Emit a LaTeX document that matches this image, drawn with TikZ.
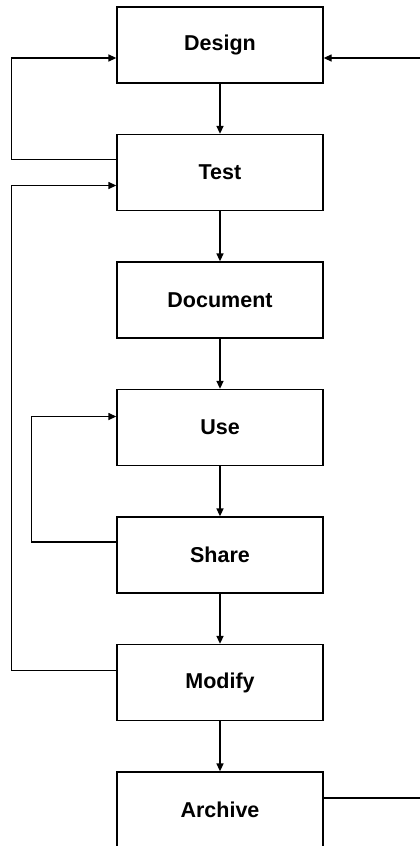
\documentclass[tikz,border=0pt]{standalone}
\usepackage{fontspec}
\setmainfont{Liberation Sans}
\usetikzlibrary{arrows.meta,positioning}

\begin{document}
\begin{tikzpicture}[x=1pt, y=1pt, node distance=50.2pt,
  stage/.style = {shape=rectangle, draw, line width=1.3pt, minimum width=206pt, minimum height=76pt, font=\fontsize{21.5}{26}\selectfont\bfseries},
  flow/.style = {-{Triangle[length=8pt,width=7pt]}, line width=1.6pt},
  back/.style = {-{Triangle[length=8pt,width=7pt]}, line width=1.3pt}]
  \useasboundingbox (0,0) rectangle (420,-846);
  \node[stage] (design) at (220,-45) {Design};
  \node[stage, below=of design] (test) {Test};
  \node[stage, below=of test] (document) {Document};
  \node[stage, below=of document] (use) {Use};
  \node[stage, below=of use] (share) {Share};
  \node[stage, below=of share] (modify) {Modify};
  \node[stage, below=of modify] (archive) {Archive};

  \draw[flow] (design) -- (test);
  \draw[flow] (test) -- (document);
  \draw[flow] (document) -- (use);
  \draw[flow] (use) -- (share);
  \draw[flow] (share) -- (modify);
  \draw[flow] (modify) -- (archive);

  % loops back up
  \draw[back] ([yshift=13pt]test.west) -- ++(-105,0) |- ([yshift=-13pt]design.west);
  \draw[back] ([yshift=12pt]modify.west) -- ++(-105,0) |- ([yshift=-13pt]test.west);
  \draw[back] ([yshift=13pt]share.west) -- ++(-85,0) |- ([yshift=11pt]use.west);
  \draw[back] ([yshift=12pt]archive.east) -- ++(120,0) |- ([yshift=-13pt]design.east);
\end{tikzpicture}
\end{document}
